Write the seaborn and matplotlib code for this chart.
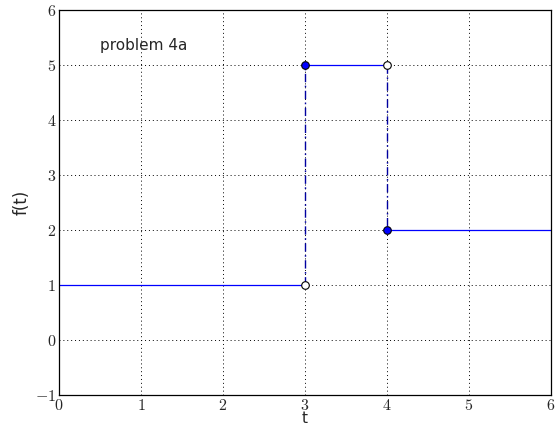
import numpy as np
import pandas as pd
import seaborn as sns
import matplotlib.pyplot as plt

# piecewise function f(t)
seg_start = [0, 3, 4]
seg_end = [3, 4, 6]
seg_value = [1, 5, 2]

# jumps (dash-dot verticals)
jump_t = [3, 4]
jump_from = [1, 5]
jump_to = [5, 2]

# endpoint markers
closed_t = [3, 4]
closed_f = [5, 2]
open_t = [3, 4]
open_f = [1, 5]

x_ticks = [0, 1, 2, 3, 4, 5, 6]
y_ticks = [-1, 0, 1, 2, 3, 4, 5, 6]


def plot_problem():
    sns.set_style("white")
    plt.rcParams['font.family'] = ['DejaVu Sans']
    plt.rcParams['mathtext.fontset'] = 'cm'

    fig = plt.figure(figsize=(5.55, 4.3), dpi=100)
    ax = fig.add_axes([59 / 555, 1 - 395 / 430, 492 / 555, 385 / 430])

    for a, b, v in zip(seg_start, seg_end, seg_value):
        seg = pd.DataFrame({"t": [a, b], "f": [v, v]})
        sns.lineplot(data=seg, x="t", y="f", ax=ax, color="blue", linewidth=0.9)

    for t, a, b in zip(jump_t, jump_from, jump_to):
        jmp = pd.DataFrame({"t": [t, t], "f": [a, b]})
        sns.lineplot(data=jmp, x="t", y="f", ax=ax, color="#0000a0",
                     linewidth=1.0, sort=False, estimator=None,
                     dashes=[6, 2.5, 1.2, 2.5])

    sns.scatterplot(x=closed_t, y=closed_f, ax=ax, color="blue",
                    edgecolor="black", s=30, linewidth=0.8, zorder=5)
    sns.scatterplot(x=open_t, y=open_f, ax=ax, color="white",
                    edgecolor="black", s=30, linewidth=0.8, zorder=5)

    ax.text(0.5, 5.35, "problem 4a", fontsize=11, va="center", ha="left")

    ax.set_xlim(0, 6)
    ax.set_ylim(-1, 6)
    ax.set_xticks(x_ticks)
    ax.set_yticks(y_ticks)
    ax.set_xticklabels([f"${v}$" for v in x_ticks], fontsize=11.5)
    ax.set_yticklabels([f"${v}$" for v in y_ticks], fontsize=11.5)
    ax.tick_params(direction="in", length=3, width=0.6, pad=2)
    ax.grid(True, linestyle=(0, (1, 3)), color="black", linewidth=0.7)
    for sp in ax.spines.values():
        sp.set_color("black")
        sp.set_linewidth(0.9)

    ax.set_xlabel("t", fontsize=11, labelpad=-1.5)
    ax.set_ylabel("f(t)", fontsize=12, labelpad=3)

    fig.savefig("out.png", dpi=100)


def main():
    plot_problem()


if __name__ == "__main__":
    main()
